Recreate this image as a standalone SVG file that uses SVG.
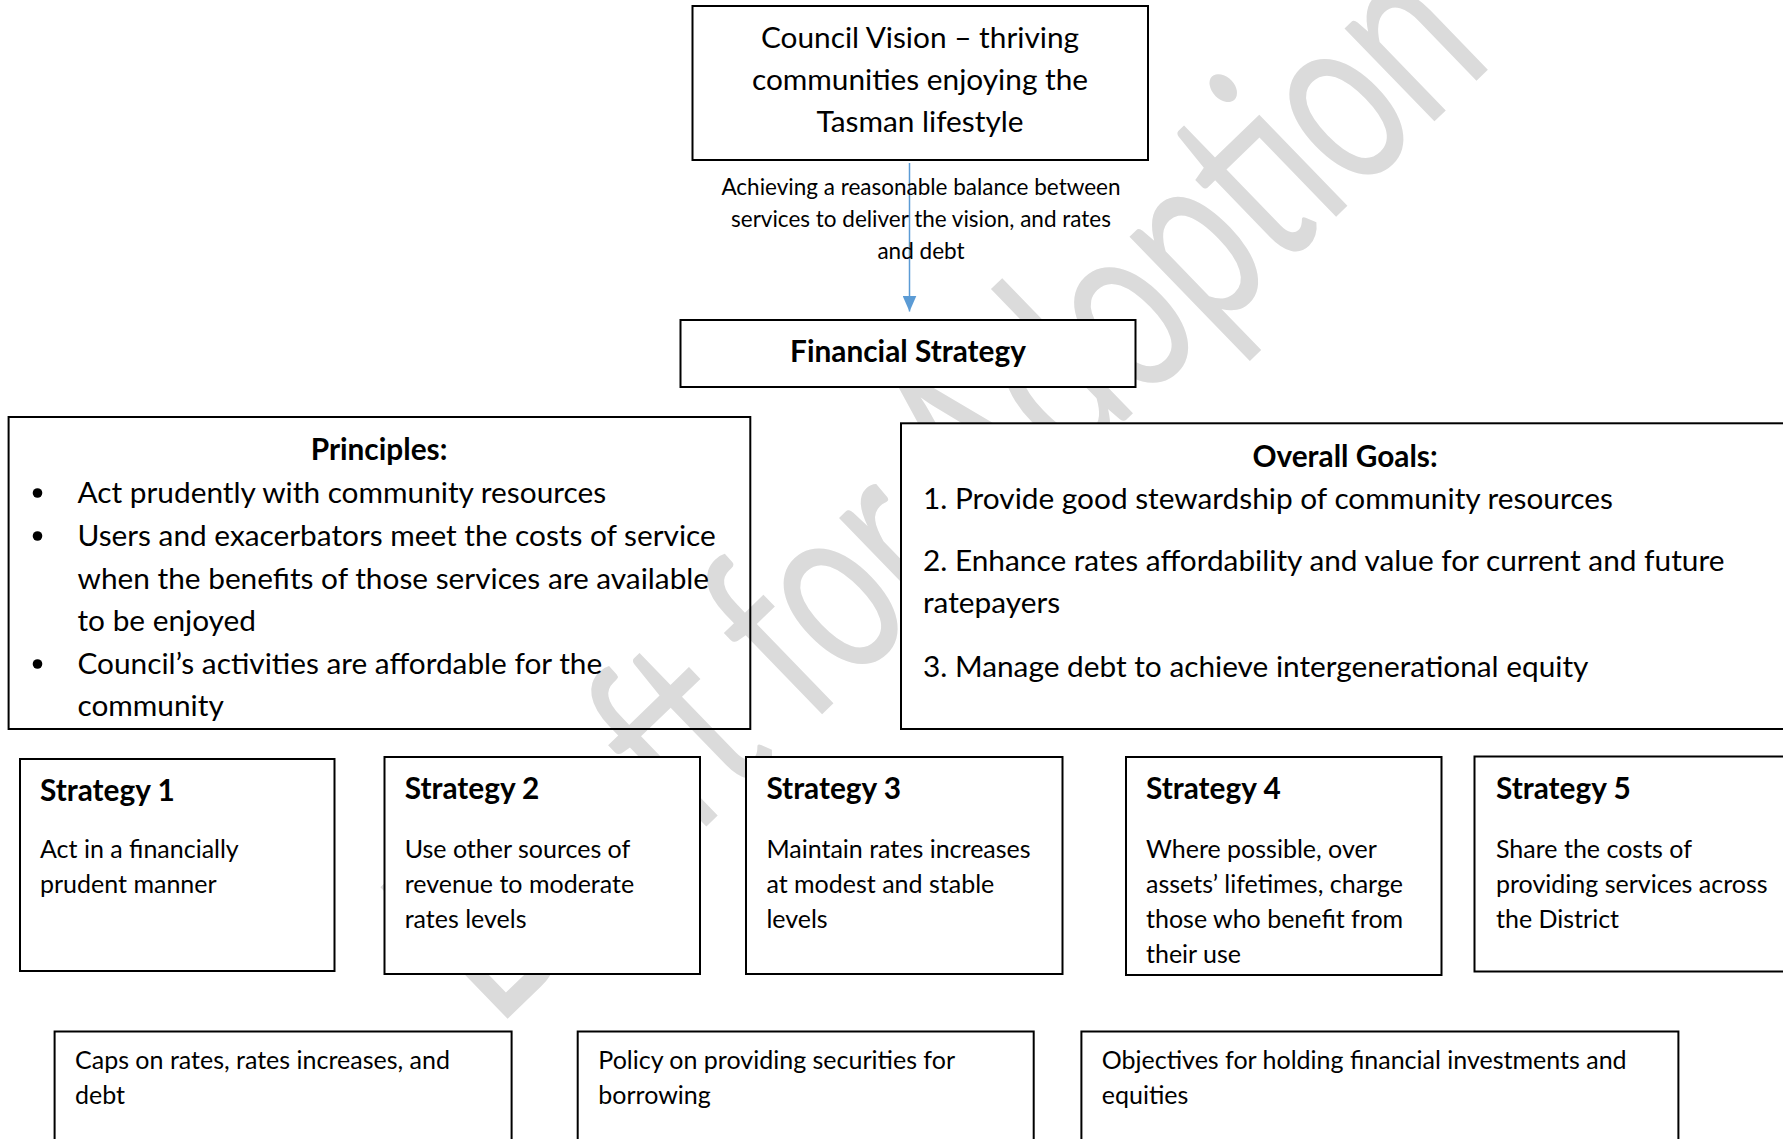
<svg xmlns="http://www.w3.org/2000/svg" width="1783" height="1139" viewBox="0 0 1783 1139">
<defs>
<style>
text{font-family:Lato,"Open Sans","Liberation Sans",sans-serif;fill:#000}
.box{fill:#fff;stroke:#000;stroke-width:2}
.open{fill:none;stroke:#000;stroke-width:2}
.t32{font-size:29.8px}
.t27{font-size:25px}
.t24{font-size:22.5px}
.b{font-weight:bold}
.c{text-anchor:middle}
.wm{font-size:176px;fill:#dbdbdb;font-family:Lato,"Open Sans",sans-serif}
.conn{stroke:#5b9bd5;stroke-width:1.5;fill:none}
</style>
<marker id="arr" markerWidth="16" markerHeight="14" refX="10" refY="5" orient="auto" markerUnits="userSpaceOnUse" viewBox="0 0 10 10" preserveAspectRatio="none">
<path d="M0,0 L10,5 L0,10 z" fill="#5b9bd5"/>
</marker>
</defs>
<rect width="1783" height="1139" fill="#fff"/>
<text class="wm" transform="translate(496,1030) rotate(-44.07) scale(1,1.45)" textLength="1392">Draft for Adoption</text>

<g id="principles">
<rect class="open" x="8.6" y="417" width="741.7" height="312"/>
<text class="t32 b c" x="379" y="460">Principles:</text>
<circle cx="37.5" cy="493" r="4.8"/>
<circle cx="37.5" cy="536" r="4.8"/>
<circle cx="37.5" cy="664" r="4.8"/>
<text class="t32" x="77.5" y="503">Act prudently with community resources</text>
<text class="t32" x="77.5" y="546">Users and exacerbators meet the costs of service</text>
<text class="t32" x="77.5" y="588.5">when the benefits of those services are available</text>
<text class="t32" x="77.5" y="631">to be enjoyed</text>
<text class="t32" x="77.5" y="674">Council’s activities are affordable for the</text>
<text class="t32" x="77.5" y="716">community</text>
</g>

<g id="vision">
<rect class="box" x="692.5" y="6" width="455.5" height="154"/>
<text class="t32 c" x="920" y="47.5">Council Vision – thriving</text>
<text class="t32 c" x="920" y="89.5">communities enjoying the</text>
<text class="t32 c" x="920" y="131.5">Tasman lifestyle</text>
</g>

<g id="financial-strategy">
<rect class="box" x="680.5" y="320" width="455" height="67"/>
<text class="t32 b c" x="908" y="362">Financial Strategy</text>
</g>

<g id="goals">
<rect class="box" x="901" y="423.3" width="900" height="305.7"/>
<text class="t32 b c" x="1345" y="467">Overall Goals:</text>
<text class="t32" x="923" y="509">1. Provide good stewardship of community resources</text>
<text class="t32" x="923" y="571">2. Enhance rates affordability and value for current and future</text>
<text class="t32" x="923" y="613">ratepayers</text>
<text class="t32" x="923" y="677">3. Manage debt to achieve intergenerational equity</text>
</g>

<g id="strategy1">
<rect class="box" x="20" y="759" width="314.5" height="212"/>
<text class="t32 b" x="40" y="801">Strategy 1</text>
<text class="t27" x="40" y="858">Act in a financially</text>
<text class="t27" x="40" y="893">prudent manner</text>
</g>
<g id="strategy2">
<rect class="box" x="384.5" y="757" width="315.5" height="217"/>
<text class="t32 b" x="404.7" y="799">Strategy 2</text>
<text class="t27" x="404.7" y="857.5">Use other sources of</text>
<text class="t27" x="404.7" y="892.5">revenue to moderate</text>
<text class="t27" x="404.7" y="927.5">rates levels</text>
</g>
<g id="strategy3">
<rect class="box" x="746" y="757" width="316.5" height="217"/>
<text class="t32 b" x="766.4" y="799">Strategy 3</text>
<text class="t27" x="766.4" y="857.5">Maintain rates increases</text>
<text class="t27" x="766.4" y="892.5">at modest and stable</text>
<text class="t27" x="766.4" y="927.5">levels</text>
</g>
<g id="strategy4">
<rect class="box" x="1126" y="757" width="315.5" height="218"/>
<text class="t32 b" x="1146" y="799">Strategy 4</text>
<text class="t27" x="1146" y="857.5">Where possible, over</text>
<text class="t27" x="1146" y="892.5">assets’ lifetimes, charge</text>
<text class="t27" x="1146" y="927.5">those who benefit from</text>
<text class="t27" x="1146" y="962.5">their use</text>
</g>
<g id="strategy5">
<rect class="box" x="1474.5" y="756.5" width="320" height="215"/>
<text class="t32 b" x="1496" y="799">Strategy 5</text>
<text class="t27" x="1496" y="857.5">Share the costs of</text>
<text class="t27" x="1496" y="892.5">providing services across</text>
<text class="t27" x="1496" y="927.5">the District</text>
</g>

<g id="caps">
<rect class="box" x="54.6" y="1031.5" width="457" height="140"/>
<text class="t27" x="75" y="1069">Caps on rates, rates increases, and</text>
<text class="t27" x="75" y="1104">debt</text>
</g>
<g id="securities">
<rect class="box" x="577.7" y="1031.5" width="456" height="140"/>
<text class="t27" x="598.3" y="1069">Policy on providing securities for</text>
<text class="t27" x="598.3" y="1104">borrowing</text>
</g>
<g id="investments">
<rect class="box" x="1081.4" y="1031.5" width="597" height="140"/>
<text class="t27" x="1101.8" y="1069">Objectives for holding financial investments and</text>
<text class="t27" x="1101.8" y="1104">equities</text>
</g>

<g id="connectors">
<line class="conn" x1="909.5" y1="163" x2="909.5" y2="311.5" marker-end="url(#arr)"/>
<text class="t24 c" x="921" y="195">Achieving a reasonable balance between</text>
<text class="t24 c" x="921" y="227">services to deliver the vision, and rates</text>
<text class="t24 c" x="921" y="259">and debt</text>
</g>
</svg>
